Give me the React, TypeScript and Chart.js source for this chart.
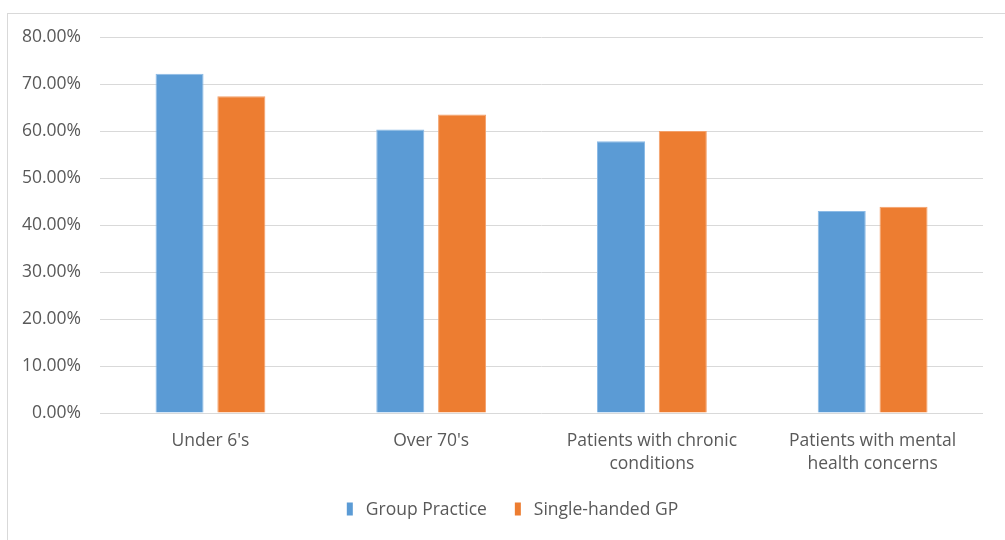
import React, { useEffect, useRef } from "react";
import { Chart, registerables } from "chart.js";

Chart.register(...registerables);

const categories: (string | string[])[] = [
  "Under 6's",
  "Over 70's",
  ["Patients with chronic", "conditions"],
  ["Patients with mental", "health concerns"],
];
const groupPractice = [0.722, 0.603, 0.578, 0.43];
const singleHanded = [0.674, 0.635, 0.6, 0.439];
const seriesNames = ["Group Practice", "Single-handed GP"];
const seriesColors = ["#5B9BD5", "#ED7D31"];

const FONT = "'Open Sans', 'DejaVu Sans', sans-serif";
const FONT_SIZE = 17.5;
const TEXT = "#595959";

const bottomLegend = {
  id: "bottomLegend",
  afterDraw(chart: any) {
    const ctx = chart.ctx as CanvasRenderingContext2D;
    const ds = chart.data.datasets;
    ctx.save();
    ctx.font = `${FONT_SIZE}px ${FONT}`;
    ctx.textBaseline = "middle";
    ctx.textAlign = "left";
    const boxW = 6;
    const boxH = 13;
    const boxGap = 13;
    const itemGap = 28;
    const widths = ds.map((d: any) => ctx.measureText(d.label).width);
    let total = 0;
    widths.forEach((w: number, i: number) => {
      total += boxW + boxGap + w + (i < widths.length - 1 ? itemGap : 0);
    });
    let x = chart.width / 2 - total / 2 + 6;
    const cy = 495;
    ds.forEach((d: any, i: number) => {
      ctx.fillStyle = d.backgroundColor;
      ctx.fillRect(x, cy - boxH / 2, boxW, boxH);
      x += boxW + boxGap;
      ctx.fillStyle = TEXT;
      ctx.fillText(d.label, x, cy + 1);
      x += widths[i] + itemGap;
    });
    ctx.restore();
  },
};

export default function App() {
  const ref = useRef<HTMLCanvasElement | null>(null);

  useEffect(() => {
    if (!ref.current) return;
    const chart = new Chart(ref.current, {
      type: "bar",
      data: {
        labels: categories,
        datasets: [
          {
            label: seriesNames[0],
            data: groupPractice,
            backgroundColor: seriesColors[0],
            borderColor: "#8DBBE6",
            borderWidth: 1,
            categoryPercentage: 0.56,
            barPercentage: 0.777,
          },
          {
            label: seriesNames[1],
            data: singleHanded,
            backgroundColor: seriesColors[1],
            borderColor: "#F3A06A",
            borderWidth: 1,
            categoryPercentage: 0.56,
            barPercentage: 0.777,
          },
        ],
      },
      plugins: [bottomLegend],
      options: {
        animation: false,
        responsive: false,
        maintainAspectRatio: false,
        layout: { autoPadding: false, padding: { top: 23, right: 22, bottom: 47, left: -5 } },
        plugins: {
          tooltip: { enabled: false },
          legend: { display: false },
        },
        scales: {
          x: {
            grid: { display: false, drawTicks: false },
            border: { display: false },
            ticks: {
              color: TEXT,
              padding: 17,
              maxRotation: 0,
              font: { family: FONT, size: FONT_SIZE, lineHeight: 1.314 },
            },
          },
          y: {
            min: 0,
            max: 0.8,
            grid: { color: "#D9D9D9", lineWidth: 1, drawTicks: false },
            border: { display: false },
            ticks: {
              stepSize: 0.1,
              color: TEXT,
              padding: 19,
              font: { family: FONT, size: FONT_SIZE, lineHeight: 0.4 },
              callback: (v: any) => (Number(v) * 100).toFixed(2) + "%",
            },
          },
        },
      },
    });
    return () => chart.destroy();
  }, []);

  return (
    <div
      style={{
        position: "absolute",
        left: 7,
        top: 13,
        width: 998,
        height: 527,
        borderLeft: "1px solid #D9D9D9",
        borderTop: "1px solid #D9D9D9",
        background: "#fff",
      }}
    >
      <canvas ref={ref} width={997} height={526} style={{ display: "block" }} />
    </div>
  );
}
